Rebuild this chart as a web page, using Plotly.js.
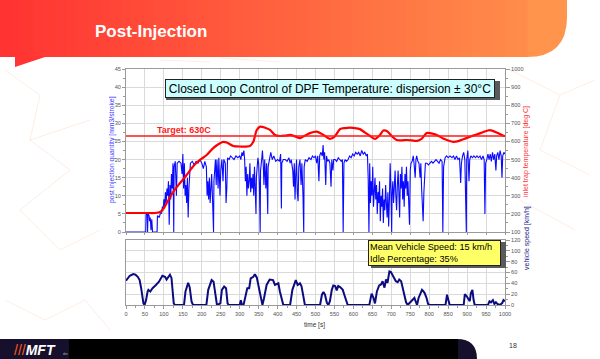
<!DOCTYPE html>
<html><head><meta charset="utf-8">
<script src="https://cdn.plot.ly/plotly-3.0.1.min.js"></script>
<style>html,body{margin:0;padding:0;background:#fff;}#chart{width:600px;height:359px;}</style>
</head><body><div id="chart"></div>
<script>
// ---- data (time [s], value) ----
const injection = [
[0,0],[52,0],[53,5.3],[56,4.8],[57,0],[58,5],[61,4.5],[62,3],[64,4],[66,0.5],[68,3.5],[70,0],[82,0],[83,4.5],[88,4],[90,5],[94,5.2],[96,7],[98,6],[100,9],[102,7],[104,11],[106,8],[108,12],[110,10],[112,14],[114,2],[116,13],[118,9],[120,16],[122,12],[124,19],[126,0],[127,18],[130,19.5],[133,10],[135,19],[140,19.5],[145,19],[148,16],[150,21.5],[152,12],[154,19],[156,10],[158,13],[160,8],[162,15],[164,4],[166,12],[168,17],[170,19],[175,19.5],[180,18.5],[185,19.5],[190,19],[195,20],[200,19],[204,17.5],[208,19.5],[212,18],[214,10],[216,14],[218,9],[220,15],[222,8],[224,12],[226,16],[228,10],[230,5],[231,0],[232,14],[234,19],[236,20],[238,13],[240,20],[243,12],[245,20.5],[248,10],[250,17],[253,20],[256,14],[258,20],[262,19],[264,8],[266,12],[268,20.5],[272,20],[276,21],[280,20.5],[285,20],[290,21],[295,20.5],[300,21],[303,20],[306,22],[308,21],[311,22.5],[313,20],[315,14],[317,18],[319,10],[321,16],[323,12],[325,14],[327,19],[329,11],[331,15],[333,12],[335,16],[337,10],[339,18],[341,13],[343,5],[344,15],[346,19],[348,20.5],[350,19],[352,13],[354,0],[355,17],[358,20],[360,22.5],[362,19],[364,13],[366,20],[369,12],[371,19],[374,5],[375,18],[378,20],[382,22],[386,20],[390,21],[395,19.5],[400,20],[405,19.5],[408,21.5],[410,6.5],[411,19],[415,20],[420,20],[425,19.5],[430,20.5],[433,19],[436,20],[440,17],[442,12.5],[444,19],[446,9],[448,16],[450,20],[452,11],[454,8.5],[456,18],[459,20],[462,13],[464,19],[467,10],[469,0],[470,18],[473,20],[478,19.5],[483,20.5],[488,20],[492,21],[496,20.5],[500,21],[503,19],[506,21],[509,14],[511,21],[514,22],[518,21],[520,24],[522,20],[524,22],[527,13],[529,21],[532,19.5],[535,20],[538,19],[541,12.5],[543,20],[546,17],[548,20],[552,20],[556,19.5],[560,20.5],[565,20],[568,19.5],[571,20],[573,0],[575,19],[578,20],[582,19.5],[586,20],[590,21],[594,20.5],[598,21.5],[602,21],[606,22],[610,21.5],[614,22],[618,21],[622,22.5],[626,21.5],[630,22],[634,21],[637,21.5],[639,15],[641,0],[643,19],[645,8],[647,14],[649,10],[651,18],[653,7],[655,12],[657,15],[659,9],[661,13],[663,5],[665,11],[667,8],[669,14],[671,3],[673,10],[675,7],[677,12],[679,2.5],[681,9],[683,6],[685,13],[687,8],[689,4],[691,11],[693,1.5],[695,9],[697,19],[699,12],[701,0],[702,10],[704,14],[706,8],[708,15],[710,17],[712,10],[714,6],[716,13],[718,17],[720,11],[722,4],[724,16],[726,12],[728,18],[730,9],[732,14],[734,7],[736,16],[738,12],[740,18],[742,10],[744,14],[746,5],[748,2],[750,17],[752,19],[755,19.5],[758,21],[760,19],[763,15],[765,20],[767,21],[770,19.5],[773,19],[776,15],[778,19],[780,12],[782,5],[784,3],[786,11],[788,15],[790,19],[794,19],[798,18.5],[802,19],[806,19.5],[810,19],[814,19.5],[818,20],[822,19.5],[826,19],[830,20],[834,19.5],[836,0],[838,18],[842,20.5],[846,21],[850,20.5],[855,21],[860,20.5],[864,21],[868,20],[872,21],[876,20],[880,20.5],[883,13.5],[885,19],[888,21],[891,22],[894,20],[896,11],[898,0],[899,20],[902,22.5],[905,14],[907,20],[910,21],[914,20.5],[918,21],[922,20.5],[926,21],[930,20.5],[934,21],[938,20],[942,21],[945,20],[947,5],[949,19],[952,20],[955,21.5],[958,20],[961,21.5],[964,19.5],[967,22],[970,20],[973,21.5],[976,17],[978,21],[981,22],[984,20],[987,22.5],[990,21],[992,15],[994,21],[997,22],[1000,21.5]
];
const inletTemp = [
[0,205],[50,205],[77,205],[90,210],[100,232],[107,258],[125,323],[142,369],[160,415],[178,465],[195,498],[213,525],[230,563],[248,590],[257,598],[266,594],[283,575],[301,572],[327,575],[336,598],[345,663],[354,682],[367,676],[380,664],[393,636],[406,630],[420,632],[433,636],[446,628],[459,618],[472,632],[485,646],[503,654],[521,636],[538,614],[551,628],[565,669],[578,674],[591,676],[604,674],[617,668],[630,650],[644,630],[657,614],[670,636],[679,660],[688,658],[701,630],[714,608],[727,606],[740,608],[754,606],[767,603],[780,614],[793,646],[811,642],[824,632],[837,616],[850,605],[864,598],[877,602],[890,612],[903,622],[916,632],[930,642],[943,652],[960,663],[978,650],[995,632],[1000,630]
];
const vehicleSpeed = [
[0,45],[5,50],[10,54],[19,57],[25,56],[31,52],[36,46],[40,31],[43,15],[46,3],[49,0],[53,9],[57,25],[59,28],[64,25],[70,31],[79,37],[87,43],[96,54],[103,52],[107,47],[116,56],[120,50],[124,22],[126,3],[129,0],[153,0],[157,25],[164,41],[168,33],[173,6],[177,0],[212,0],[217,28],[226,46],[231,43],[237,12],[240,0],[249,3],[253,28],[259,34],[264,31],[268,3],[271,0],[300,0],[303,9],[306,0],[310,0],[313,9],[320,31],[325,31],[329,49],[336,52],[340,57],[345,51],[349,37],[356,12],[360,0],[364,12],[371,37],[379,47],[388,46],[393,37],[402,40],[406,25],[410,12],[415,0],[433,0],[439,28],[448,46],[453,37],[459,40],[463,35],[468,16],[472,0],[512,0],[517,19],[521,24],[525,19],[530,4],[534,0],[538,7],[543,28],[547,36],[552,35],[556,27],[560,35],[565,33],[572,28],[576,19],[581,7],[585,0],[642,0],[645,13],[648,21],[653,13],[657,3],[662,25],[668,36],[673,38],[677,44],[682,32],[686,47],[690,41],[695,62],[699,61],[706,53],[712,44],[717,42],[721,47],[726,44],[730,32],[734,19],[739,5],[743,0],[761,13],[764,7],[768,0],[772,13],[777,22],[781,28],[785,25],[788,22],[793,13],[797,2],[801,0],[843,0],[847,19],[850,10],[854,0],[891,0],[894,20],[899,16],[903,10],[907,7],[910,22],[914,28],[917,10],[920,0],[955,0],[959,7],[963,5],[968,9],[972,2],[976,5],[980,2],[987,0],[993,4],[996,9],[1000,7]
];
const targetTemp = 630;
const timeRange = [0, 1000];
const injRange = [0, 45];
const tempRange = [100, 1000];
const speedRange = [0, 120];
const boxTitle = "Closed Loop Control of DPF Temperature: dispersion \u00b1 30\u00b0C";
const statsText = "Mean Vehicle Speed: 15 km/h<br>Idle Percentage: 35%";

// ---- layout helpers (pixel -> paper) ----
const L = 126, R = 505, T = 69, B = 305;
const X = px => (px - L) / (R - L);
const Y = py => (B - py) / (B - T);
const FONT = "Liberation Sans, Arial, sans-serif";

const col = i => i.map(p => p[0]);
const val = i => i.map(p => p[1]);

const traces = [
  {x: col(injection), y: val(injection), xaxis: 'x2', yaxis: 'y', type: 'scatter', mode: 'lines',
   line: {color: '#0a0aff', width: 1.1}, hoverinfo: 'skip'},
  {x: col(inletTemp), y: val(inletTemp), xaxis: 'x2', yaxis: 'y2', type: 'scatter', mode: 'lines',
   line: {color: '#ff0000', width: 2.2, shape: 'spline', smoothing: 0.7}, hoverinfo: 'skip'},
  {x: col(vehicleSpeed), y: val(vehicleSpeed), xaxis: 'x', yaxis: 'y3', type: 'scatter', mode: 'lines',
   line: {color: '#0c0c80', width: 2}, hoverinfo: 'skip'}
];

const grid = '#dadada', axl = '#9a9a9a';
const tickf = {size: 5.6, color: '#555', family: FONT};
const topDom = [Y(232), 1], botDom = [0, Y(240)];

// ---- decorative slide shapes ----
const shapes = [];
const c0 = [255, 50, 50], c1 = [255, 148, 76];
const rgb = f => 'rgb(' + c0.map((c, k) => Math.round(c + (c1[k] - c) * f)).join(',') + ')';
shapes.push({type: 'path', xref: 'paper', yref: 'paper', layer: 'below',
  path: `M ${X(0)},${Y(0)} L ${X(567)},${Y(0)} L ${X(567)},${Y(17)} Q ${X(567)},${Y(57)} ${X(527)},${Y(57)} L ${X(0)},${Y(57)} Z`,
  fillcolor: rgb(1), line: {width: 0}});
const N = 48;
for (let i = 0; i < N; i++) {
  const a = 527 * i / N, b = 527 * (i + 1) / N + 0.6;
  shapes.push({type: 'rect', xref: 'paper', yref: 'paper', layer: 'below',
    x0: X(a), x1: X(b), y0: Y(0), y1: Y(57), fillcolor: rgb((a + b) / 2 / 567), line: {width: 0}});
}
shapes.push({type: 'path', xref: 'paper', yref: 'paper', layer: 'below',
  path: `M ${X(15)},${Y(56)} L ${X(48)},${Y(56)} L ${X(15)},${Y(67)} Z`, fillcolor: rgb(0.02), line: {width: 0}});
// footer
shapes.push({type: 'path', xref: 'paper', yref: 'paper', layer: 'below',
  path: `M ${X(0)},${Y(339)} L ${X(457)},${Y(339)} Q ${X(477)},${Y(339)} ${X(477)},${Y(359)} L ${X(0)},${Y(359)} Z`,
  fillcolor: '#16102c', line: {width: 0}});
shapes.push({type: 'rect', xref: 'paper', yref: 'paper', layer: 'below',
  x0: X(69), x1: X(458), y0: Y(339), y1: Y(359), fillcolor: '#000000', line: {width: 0}});
// faint network pattern
const net = [[5,70,40,95],[40,95,30,140],[30,140,70,170],[70,170,20,210],[20,210,60,250],[60,250,100,230],[5,300,45,320],[45,320,85,300],[85,300,110,330],[30,140,90,120],[510,70,560,95],[560,95,595,80],[560,95,540,150],[540,150,590,175],[520,200,575,230],[160,60,210,62],[220,58,280,62]];
net.forEach(s => shapes.push({type: 'line', xref: 'paper', yref: 'paper', layer: 'below',
  x0: X(s[0]), y0: Y(s[1]), x1: X(s[2]), y1: Y(s[3]), line: {color: 'rgba(248,180,140,0.35)', width: 0.7}}));
// target line
shapes.push({type: 'line', xref: 'x2 domain', yref: 'y2', x0: 0, x1: 1, y0: targetTemp, y1: targetTemp,
  line: {color: '#ff1a1a', width: 1.3}, layer: 'above'});
// box shadows
shapes.push({type: 'rect', xref: 'paper', yref: 'paper', layer: 'above',
  x0: X(166), x1: X(500), y0: Y(81), y1: Y(100), fillcolor: '#5a5a5a', line: {width: 0}});
shapes.push({type: 'rect', xref: 'paper', yref: 'paper', layer: 'above',
  x0: X(371), x1: X(506), y0: Y(242), y1: Y(268), fillcolor: '#5a5a5a', line: {width: 0}});

const annotations = [
  {xref: 'paper', yref: 'paper', x: X(93), y: Y(31), xanchor: 'left', yanchor: 'middle', showarrow: false,
   text: '<b>Post-Injection</b>', font: {size: 17, color: '#ffffff', family: FONT}},
  {xref: 'paper', yref: 'paper', x: X(330), y: Y(88), xanchor: 'center', yanchor: 'middle', showarrow: false,
   text: boxTitle, font: {size: 12, color: '#000', family: FONT}, bgcolor: '#ccffff', bordercolor: '#222',
   borderwidth: 1, borderpad: 1, width: 326, height: 15},
  {xref: 'paper', yref: 'paper', x: X(155), y: Y(130), xanchor: 'left', yanchor: 'middle', showarrow: false,
   text: '<b>Target: 630C</b>', font: {size: 9, color: '#ff1a1a', family: FONT}},
  {xref: 'paper', yref: 'paper', x: X(368), y: Y(239.5), xanchor: 'left', yanchor: 'top', showarrow: false,
   text: statsText, align: 'left', font: {size: 9.2, color: '#000', family: FONT}, bgcolor: '#ffff66',
   bordercolor: '#222', borderwidth: 1, borderpad: 1, width: 129},
  {xref: 'paper', yref: 'paper', x: X(106), y: Y(150), textangle: -90, showarrow: false,
   text: 'post injection quantity [mm3/stroke]', font: {size: 6.8, color: '#3a3aff', family: FONT}},
  {xref: 'paper', yref: 'paper', x: X(532), y: Y(152), textangle: -90, showarrow: false,
   text: 'inlet trap temperature [deg C]', font: {size: 7, color: '#ff3030', family: FONT}},
  {xref: 'paper', yref: 'paper', x: X(533), y: Y(272), textangle: -90, showarrow: false,
   text: 'vehicle speed [km/h]', font: {size: 7, color: '#1a1a8a', family: FONT}},
  {xref: 'paper', yref: 'paper', x: X(314), y: Y(319), yanchor: 'top', showarrow: false,
   text: 'time [s]', font: {size: 6.5, color: '#333', family: FONT}},
  {xref: 'paper', yref: 'paper', x: X(12), y: Y(350), xanchor: 'left', yanchor: 'middle', showarrow: false,
   text: '<span style="color:#ff5a1a">///</span><b><i>MFT</i></b>', font: {size: 14, color: '#ffffff', family: FONT}},
  {xref: 'paper', yref: 'paper', x: X(61), y: Y(354), xanchor: 'left', yanchor: 'middle', showarrow: false,
   text: 'dev', font: {size: 3, color: '#bbbbbb', family: FONT}},
  {xref: 'paper', yref: 'paper', x: X(519), y: Y(351), showarrow: false,
   text: '18', font: {size: 7, color: '#333', family: FONT}}
];

const layout = {
  width: 600, height: 359, margin: {l: L, r: 600 - R, t: T, b: 359 - B, pad: 0},
  paper_bgcolor: '#ffffff', plot_bgcolor: '#ffffff', showlegend: false,
  font: {family: FONT},
  xaxis: {domain: [0, 1], anchor: 'y3', range: timeRange, dtick: 50, tick0: 0, showgrid: true, gridcolor: grid,
    showline: true, linecolor: axl, linewidth: 1, mirror: true, ticks: 'outside', ticklen: 3, tickcolor: axl,
    tickfont: tickf, ticklabelstandoff: 0, zeroline: false, minor: {ticks: 'outside', ticklen: 2, dtick: 25, tickcolor: axl}},
  xaxis2: {domain: [0, 1], anchor: 'y', range: timeRange, dtick: 50, tick0: 0, showgrid: true, gridcolor: grid,
    showline: true, linecolor: axl, linewidth: 1, mirror: true, ticks: 'outside', ticklen: 2, tickcolor: axl,
    showticklabels: false, zeroline: false, matches: 'x'},
  yaxis: {domain: topDom, anchor: 'x2', range: injRange, dtick: 5, tick0: 0, showgrid: true, gridcolor: grid,
    showline: true, linecolor: axl, linewidth: 1, mirror: true, ticks: 'outside', ticklen: 3, tickcolor: axl,
    tickfont: tickf, zeroline: false, minor: {ticks: 'outside', ticklen: 2, dtick: 2.5, tickcolor: axl}},
  yaxis2: {overlaying: 'y', anchor: 'x2', side: 'right', range: tempRange, dtick: 100, tick0: 0, showgrid: false,
    showline: false, ticks: 'outside', ticklen: 4, tickcolor: axl, tickfont: tickf, zeroline: false,
    minor: {ticks: 'outside', ticklen: 2, dtick: 50, tickcolor: axl}},
  yaxis3: {domain: botDom, anchor: 'x', side: 'right', range: speedRange, dtick: 20, tick0: 0, showgrid: true,
    gridcolor: grid, showline: true, linecolor: axl, linewidth: 1, mirror: true, ticks: 'outside', ticklen: 4,
    tickcolor: axl, tickfont: tickf, zeroline: false, minor: {ticks: 'outside', ticklen: 2, dtick: 10, tickcolor: axl}},
  shapes: shapes,
  annotations: annotations
};

Plotly.newPlot('chart', traces, layout, {staticPlot: true, displayModeBar: false});
</script>
</body></html>
